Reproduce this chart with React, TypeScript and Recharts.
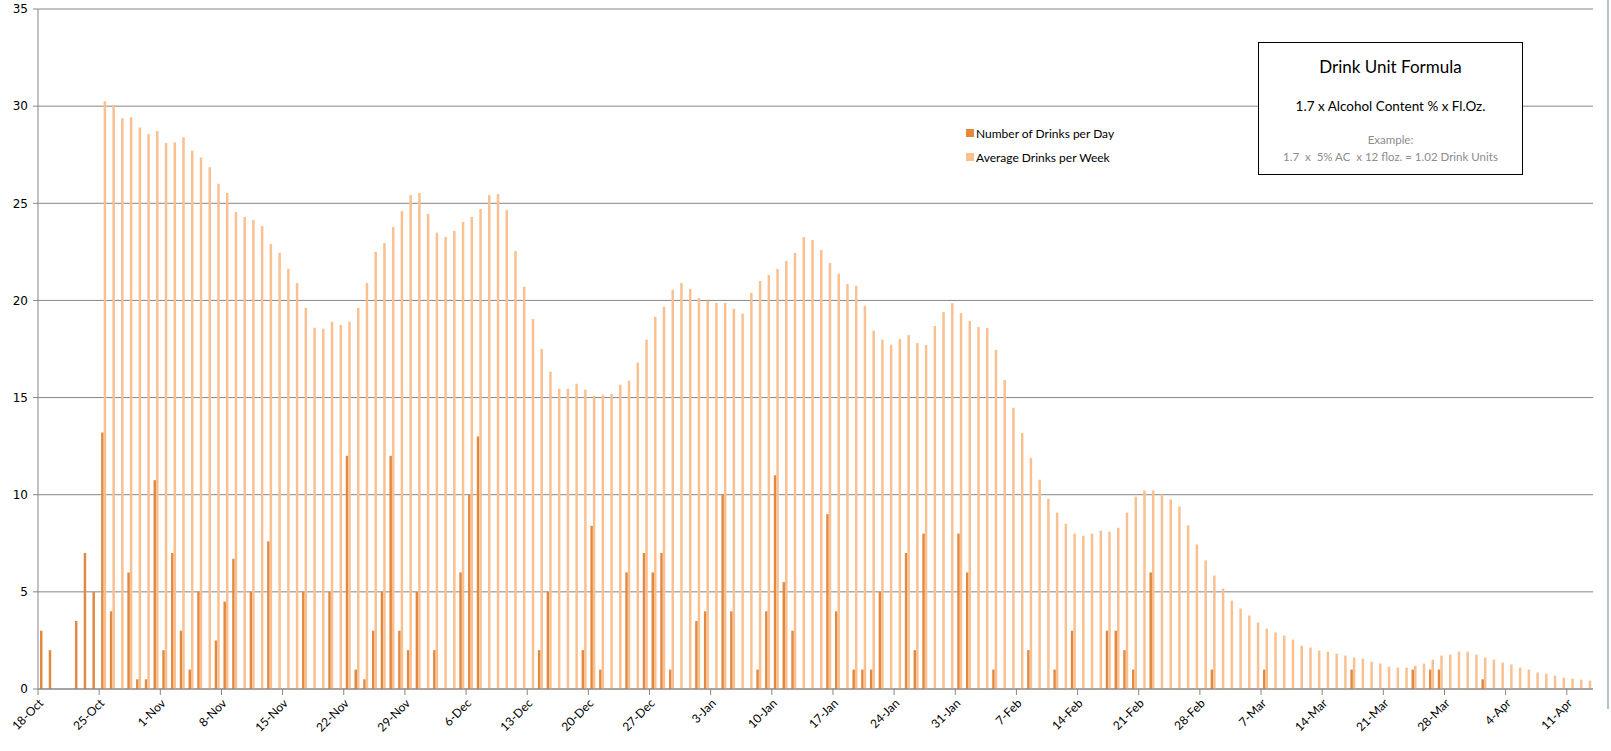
import { Bar, BarChart, CartesianGrid, XAxis, YAxis } from "recharts";

const CHART_W = 1611;
const CHART_H = 751;
const PLOT_LEFT = 38;
const PLOT_RIGHT = 1593;
const PLOT_TOP = 9;
const PLOT_BOTTOM = 689;

const DARK = "#E2883F";
const LIGHT = "#FAC090";
const AXIS = "#868686";
const FONT = "Lato, 'Open Sans', sans-serif";

// month name, first day, last day shown
const MONTH_SPANS: [string, number, number][] = [
  ["Oct", 18, 31],
  ["Nov", 1, 30],
  ["Dec", 1, 31],
  ["Jan", 1, 31],
  ["Feb", 1, 28],
  ["Mar", 1, 31],
  ["Apr", 1, 13],
];

// Number of Drinks per Day, one value per day of each month span
const drinksOct = [3, 2, 0, 0, 3.5, 7, 5, 13.2, 4, 0, 6, 0.5, 0.5, 10.75];
const drinksNov = [
  2, 7, 3, 1, 5, 0, 2.5, 4.5, 6.7, 0, 5, 0, 7.6, 0, 0,
  0, 5, 0, 0, 5, 0, 12, 1, 0.5, 3, 5, 12, 3, 2, 5,
];
const drinksDec = [
  0, 2, 0, 0, 6, 10, 13, 0, 0, 0, 0, 0, 0, 2, 5, 0,
  0, 0, 2, 8.4, 1, 0, 0, 6, 0, 7, 6, 7, 1, 0, 0,
];
const drinksJan = [
  3.5, 4, 0, 10, 4, 0, 0, 1, 4, 11, 5.5, 3, 0, 0, 0, 9,
  4, 0, 1, 1, 1, 5, 0, 0, 7, 2, 8, 0, 0, 0, 8,
];
const drinksFeb = [
  6, 0, 0, 1, 0, 0, 0, 2, 0, 0, 1, 0, 3, 0,
  0, 0, 3, 3, 2, 1, 0, 6, 0, 0, 0, 0, 0, 0,
];
const drinksMar = [
  1, 0, 0, 0, 0, 0, 1, 0, 0, 0, 0, 0, 0, 0, 0, 0,
  1, 0, 0, 0, 0, 0, 0, 1, 0, 1, 1, 0, 0, 0, 0,
];
const drinksApr = [0.5, 0, 0, 0, 0, 0, 0, 0, 0, 0, 0, 0, 0];

// Average Drinks per Week
const weekOct = [null, null, null, null, null, null, null, 30.25, 30.05, 29.38, 29.43, 28.9, 28.56, 28.72];
const weekNov = [
  28.1, 28.14, 28.4, 27.7, 27.36, 26.86, 26.0, 25.53, 24.55, 24.29, 24.14, 23.83, 22.91, 22.45, 21.62,
  20.9, 19.62, 18.59, 18.54, 18.9, 18.74, 18.9, 19.62, 20.9, 22.5, 22.96, 23.78, 24.6, 25.43, 25.53,
];
const weekDec = [
  24.45, 23.48, 23.27, 23.58, 24.04, 24.3, 24.71, 25.43, 25.48, 24.66, 22.55, 20.7, 19.05, 17.5, 16.33, 15.46,
  15.46, 15.71, 15.4, 15.09, 15.14, 15.19, 15.66, 15.86, 16.8, 17.97, 19.16, 19.67, 20.55, 20.9, 20.59,
];
const weekJan = [
  20.13, 19.98, 19.87, 19.87, 19.57, 19.31, 20.39, 21.0, 21.31, 21.62, 22.03, 22.44, 23.27, 23.11, 22.6, 21.93,
  21.37, 20.85, 20.75, 19.72, 18.44, 17.98, 17.72, 18.02, 18.22, 17.81, 17.71, 18.68, 19.4, 19.86, 19.35,
];
const weekFeb = [
  18.94, 18.63, 18.58, 17.45, 15.91, 14.47, 13.18, 11.9, 10.77, 9.79, 9.08, 8.51, 8.0, 7.89,
  8.0, 8.15, 8.1, 8.3, 9.08, 9.9, 10.22, 10.22, 10.02, 9.76, 9.4, 8.42, 7.44, 6.62,
];
const weekMar = [
  5.84, 5.17, 4.55, 4.14, 3.78, 3.42, 3.11, 2.91, 2.75, 2.54, 2.23, 2.13, 1.98, 1.92, 1.82, 1.72,
  1.62, 1.56, 1.41, 1.31, 1.15, 1.1, 1.1, 1.2, 1.31, 1.51, 1.72, 1.77, 1.92, 1.92, 1.77,
];
const weekApr = [1.62, 1.51, 1.36, 1.26, 1.1, 1.0, 0.85, 0.79, 0.69, 0.58, 0.53, 0.48, 0.43];

const Y_TICKS = [0, 5, 10, 15, 20, 25, 30, 35];

const dayLabels: string[] = [];
MONTH_SPANS.forEach(([mon, first, last]) => {
  for (let d = first; d <= last; d++) dayLabels.push(`${d}-${mon}`);
});

const drinks = [
  ...drinksOct, ...drinksNov, ...drinksDec, ...drinksJan, ...drinksFeb, ...drinksMar, ...drinksApr,
];
const weekAvg = [
  ...weekOct, ...weekNov, ...weekDec, ...weekJan, ...weekFeb, ...weekMar, ...weekApr,
];

const data = dayLabels.map((day, i) => ({
  day,
  perDay: drinks[i] || null,
  perWeek: weekAvg[i],
}));

const HALF_BAND = (PLOT_RIGHT - PLOT_LEFT) / dayLabels.length / 2;

// label sits at the left edge of its day, like the spreadsheet's date axis
function DateTick(props: any) {
  const { payload } = props;
  const bx = payload.coordinate - HALF_BAND;
  const tx = bx + 6;
  const ty = PLOT_BOTTOM + 15;
  return (
    <g>
      <line x1={bx} x2={bx} y1={PLOT_BOTTOM} y2={PLOT_BOTTOM + 6} stroke={AXIS} />
      <text
        x={tx}
        y={ty}
        textAnchor="end"
        transform={`rotate(-45 ${tx} ${ty})`}
        fontSize={12}
        fontFamily={FONT}
        fill="#000"
      >
        {payload.value}
      </text>
    </g>
  );
}

const LEGEND_ITEMS = [
  { label: "Number of Drinks per Day", color: DARK, y: 133 },
  { label: "Average Drinks per Week", color: LIGHT, y: 157 },
];

function Line({ top, size, color, children }: any) {
  return (
    <div
      style={{
        position: "absolute",
        top,
        left: 0,
        width: "100%",
        fontSize: size,
        lineHeight: `${Math.round(size * 1.2)}px`,
        color,
        whiteSpace: "pre",
      }}
    >
      {children}
    </div>
  );
}

export default function App() {
  return (
    <div
      style={{
        position: "absolute",
        left: 0,
        top: 0,
        width: CHART_W,
        height: CHART_H,
        background: "#fff",
        overflow: "hidden",
      }}
    >
      <BarChart
        width={CHART_W}
        height={CHART_H}
        data={data}
        margin={{ top: PLOT_TOP, right: CHART_W - PLOT_RIGHT, left: 0, bottom: 0 }}
        barGap={0}
      >
        <CartesianGrid vertical={false} stroke={AXIS} />
        <XAxis
          dataKey="day"
          interval={6}
          height={CHART_H - PLOT_BOTTOM}
          stroke={AXIS}
          tickLine={false}
          tick={<DateTick />}
        />
        <YAxis
          width={PLOT_LEFT}
          domain={[0, 35]}
          ticks={Y_TICKS}
          stroke={AXIS}
          tickSize={5}
          tickMargin={5}
          tick={{ fontSize: 12, fill: "#000", fontFamily: "'DejaVu Sans', sans-serif" }}
        />
        <Bar dataKey="perDay" name="Number of Drinks per Day" fill={DARK} barSize={2.5} isAnimationActive={false} />
        <Bar dataKey="perWeek" name="Average Drinks per Week" fill={LIGHT} barSize={2.5} isAnimationActive={false} />
      </BarChart>

      {LEGEND_ITEMS.map((it) => (
        <div
          key={it.label}
          style={{
            position: "absolute",
            left: 966,
            top: it.y - 8,
            height: 16,
            display: "flex",
            alignItems: "center",
            fontFamily: FONT,
            fontSize: 12,
            color: "#000",
            whiteSpace: "nowrap",
          }}
        >
          <span style={{ width: 8, height: 8, background: it.color, marginRight: 2 }} />
          {it.label}
        </div>
      ))}

      <div
        style={{
          position: "absolute",
          left: 1258,
          top: 42,
          width: 263,
          height: 131,
          border: "1px solid #000",
          background: "#fff",
          fontFamily: FONT,
          textAlign: "center",
          color: "#000",
        }}
      >
        <Line top={14} size={17} color="#000">Drink Unit Formula</Line>
        <Line top={55} size={13.5} color="#000">1.7 x Alcohol Content % x Fl.Oz.</Line>
        <Line top={90} size={11.5} color="#8c8c8c">Example:</Line>
        <Line top={107} size={11.5} color="#8c8c8c">1.7  x  5% AC  x 12 floz. = 1.02 Drink Units</Line>
      </div>

      <div style={{ position: "absolute", left: 1607, top: 0, width: 2, height: 709, background: "#b4c4c8" }} />
    </div>
  );
}
